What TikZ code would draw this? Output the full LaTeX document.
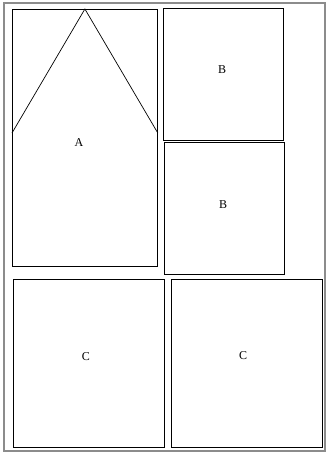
\documentclass[tikz,border=0pt]{standalone}
\usepackage{fontspec}
\setmainfont{Liberation Serif}
\usetikzlibrary{positioning,calc}
\definecolor{framec}{HTML}{8C8C8C}
\tikzset{
  panel/.style={draw=black,line width=0.8pt,inner sep=0pt,anchor=north west},
  outer/.style={draw=framec,line width=1.4pt},
  plab/.style={font=\fontsize{12}{14}\selectfont,inner sep=1pt},
}
\begin{document}
\begin{tikzpicture}[x=1pt,y=-1pt]
  \useasboundingbox (0,0) rectangle (326,455);
  \draw[outer] (4,3) rectangle (325,451);
  \node[panel,minimum width=145pt,minimum height=257pt](pA) at (12,9) {};
  \node[panel,minimum width=120pt,minimum height=132pt](pB1) at (162.5,7.5) {};
  \node[panel,minimum width=120pt,minimum height=132pt](pB2) at (163.5,142) {};
  \node[panel,minimum width=151pt,minimum height=168pt](pC1) at (12.5,279) {};
  \node[panel,minimum width=151pt,minimum height=168pt](pC2) at (171,278.5) {};
  % roof of A
  \coordinate (rl) at ($(pA.north west)+(0,124)$);
  \coordinate (rr) at ($(pA.north east)+(0,124)$);
  \draw[line width=0.7pt] (rl)--(pA.north)--(rr);
  \node[plab](lA) at (79,143) {A};
  \node[plab](lB1) at (222,70) {B};
  \node[plab](lB2) at (223,205) {B};
  \node[plab](lC1) at (86,357) {C};
  \node[plab](lC2) at (243,356) {C};
\end{tikzpicture}
\end{document}
